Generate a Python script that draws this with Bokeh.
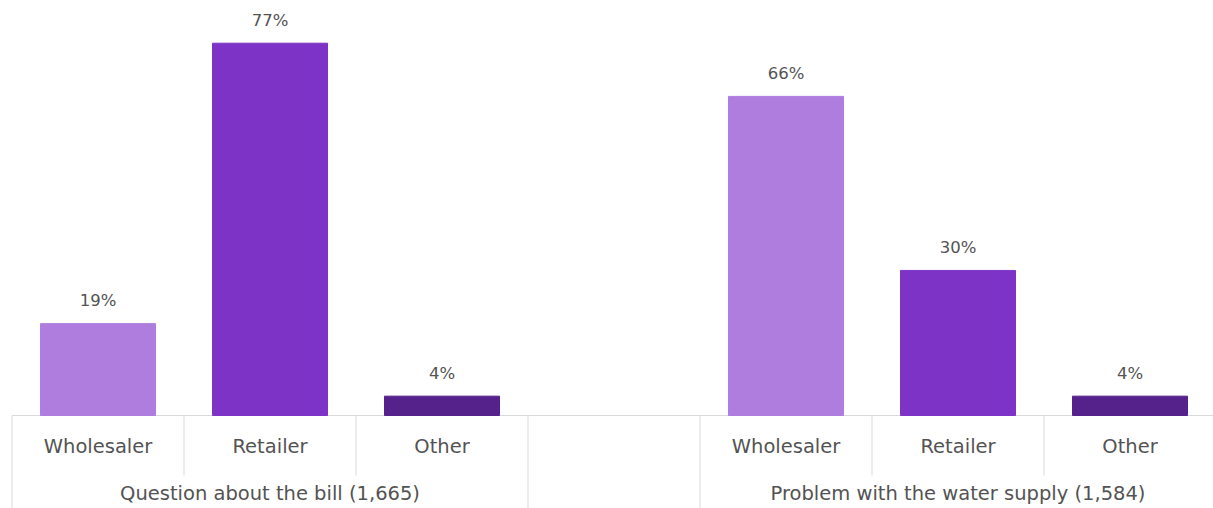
from bokeh.plotting import figure
from bokeh.models import ColumnDataSource, Range1d
from bokeh.core.properties import value
from bokeh.embed import file_html
from bokeh.resources import INLINE

# ---- data ----
groups = ["Question about the bill (1,665)", "Problem with the water supply (1,584)"]
categories = ["Wholesaler", "Retailer", "Other"]
bill_values = [19, 77, 4]
supply_values = [66, 30, 4]
bar_colors = ["#AE7DDD", "#7D33C6", "#55218A"]

series = [bill_values, supply_values]

# ---- layout helpers (slot index per bar; a blank slot between groups) ----
slots_per_group = len(categories) + 1
xs, tops, cols, labels, cat_names = [], [], [], [], []
for g, vals in enumerate(series):
    for c, v in enumerate(vals):
        xs.append(g * slots_per_group + c)
        tops.append(v)
        cols.append(bar_colors[c])
        labels.append(f"{v}%")
        cat_names.append(categories[c])

W, H = 1213, 508
px_per_slot = 172.0
left_px = 11.5
base_px = 415.0
px_per_unit = 4.835

x_start = -0.5 - left_px / px_per_slot
x_end = x_start + W / px_per_slot
y_top = base_px / px_per_unit
y_bot = -(H - base_px) / px_per_unit

p = figure(width=W, height=H, output_backend="svg", toolbar_location=None,
           x_range=Range1d(x_start, x_end), y_range=Range1d(y_bot, y_top),
           x_axis_location=None, y_axis_location=None, min_border=0)
p.outline_line_color = None
p.xgrid.visible = False
p.ygrid.visible = False
p.background_fill_color = "white"
p.border_fill_color = "white"

grid_color = "#D9D9D9"
text_color = "#535353"
font = value("DejaVu Sans")

# baseline (starts at the left edge of the first category slot)
p.segment(x0=[-0.5], y0=[0], x1=[x_end], y1=[0], line_color=grid_color, line_width=1)

# separators
inner_y = -(475 - base_px) / px_per_unit
inner_x, outer_x = [], []
for g in range(len(groups)):
    start = g * slots_per_group - 0.5
    outer_x += [start, start + len(categories)]
    for c in range(1, len(categories)):
        inner_x.append(start + c)
p.segment(x0=inner_x, y0=[0] * len(inner_x), x1=inner_x, y1=[inner_y] * len(inner_x),
          line_color=grid_color, line_width=1)
p.segment(x0=outer_x, y0=[0] * len(outer_x), x1=outer_x, y1=[y_bot] * len(outer_x),
          line_color=grid_color, line_width=1)

src = ColumnDataSource(dict(x=xs, top=tops, color=cols, label=labels, cat=cat_names))
bar_w = 115 / px_per_slot
p.vbar(x="x", top="top", bottom=0, width=bar_w, fill_color="color", line_color="color",
       source=src)

# value labels
p.text(x="x", y="top", text="label", source=src, text_align="center",
       text_baseline="middle", y_offset=-23, text_font=font, text_font_size="16.5px",
       text_color=text_color)

# category labels
cat_y = -(446 - base_px) / px_per_unit
p.text(x="x", y=cat_y, text="cat", source=src, text_align="center",
       text_baseline="middle", text_font=font, text_font_size="19.5px", text_color=text_color)

# group labels
grp_x = [g * slots_per_group + (len(categories) - 1) / 2 for g in range(len(groups))]
grp_y = -(493 - base_px) / px_per_unit
p.text(x=grp_x, y=[grp_y] * len(groups), text=groups, text_align="center",
       text_baseline="middle", text_font=font, text_font_size="19.5px", text_color=text_color)

open("out.html", "w").write(file_html(p, INLINE))
